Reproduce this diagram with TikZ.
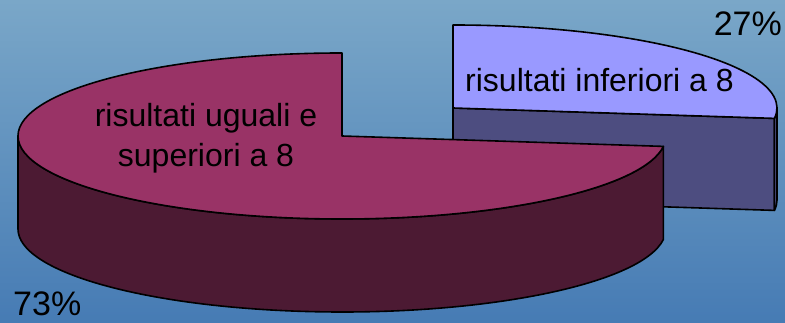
\documentclass[tikz,border=0pt]{standalone}
\usepackage{fontspec}
\setmainfont{Liberation Sans}
\usetikzlibrary{calc}
\definecolor{bgtop}{RGB}{122,167,200}
\definecolor{bgbot}{RGB}{70,123,180}
\definecolor{magtop}{RGB}{153,51,102}
\definecolor{magside}{RGB}{76,26,51}
\definecolor{lilatop}{RGB}{153,153,255}
\definecolor{lilaside}{RGB}{77,77,128}
\tikzset{
  rim/.style={draw=black,line width=1.6pt,line join=round},
  lbl/.style={inner sep=0pt,font=\fontsize{32pt}{40pt}\selectfont},
  pct/.style={inner sep=0pt,font=\fontsize{34pt}{40pt}\selectfont},
  ell/.style={x radius=324pt,y radius=83pt}
}
\begin{document}
\begin{tikzpicture}[x=1pt,y=1pt]
\useasboundingbox (0,0) rectangle (785,323);
\shade[top color=bgtop,bottom color=bgbot] (0,0) rectangle (785,323);
\coordinate (big) at (342,187);
\coordinate (small) at (453,215);
\filldraw[rim,fill=lilaside] (small) -- ($(small)+(-7.2:324pt and 83pt)$) -- ++(0,-92) -- ($(small)+(0,-92)$) -- cycle;
\filldraw[rim,fill=lilaside] ($(small)+(-7.2:324pt and 83pt)$) arc[start angle=-7.2,end angle=0,ell] -- ++(0,-92) arc[start angle=0,end angle=-7.2,ell] -- cycle;
\filldraw[rim,fill=lilatop] (small) -- ($(small)+(-7.2:324pt and 83pt)$) arc[start angle=-7.2,end angle=90,ell] -- cycle;
\filldraw[rim,fill=magside] ($(big)+(-324,0)$) arc[start angle=180,end angle=352.8,ell] -- ++(0,-93) arc[start angle=352.8,end angle=180,ell] -- cycle;
\filldraw[rim,fill=magtop] (big) -- ++(0,83) arc[start angle=90,end angle=352.8,ell] -- cycle;
\node[lbl,anchor=base,align=center] (uguali) at (206,156) {risultati uguali e\\superiori a 8};
\node[lbl,anchor=base west] (inferiori) at (465,231) {risultati inferiori a 8};
\node[pct,anchor=base east] (pinf) at (782,287) {27\%};
\node[pct,anchor=base west] (psup) at (13,7) {73\%};
\end{tikzpicture}
\end{document}
